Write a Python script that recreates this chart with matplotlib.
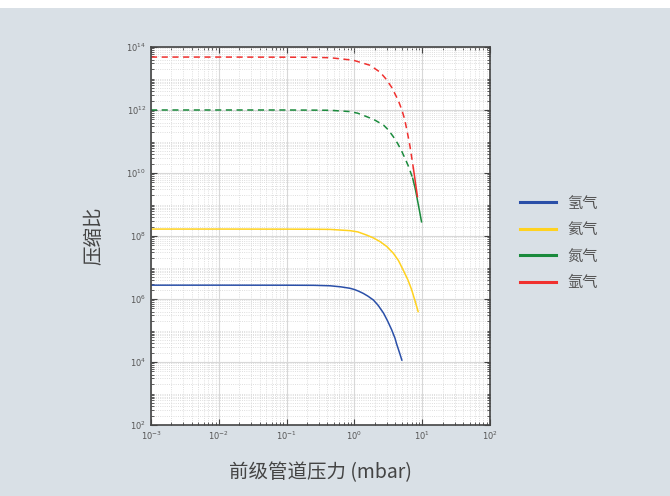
import matplotlib
matplotlib.use("Agg")
import matplotlib.pyplot as plt
from matplotlib.patches import Rectangle
from matplotlib.lines import Line2D
from matplotlib.ticker import LogLocator, FixedLocator, NullFormatter

plt.rcParams['font.family'] = ['Noto Sans CJK SC', 'DejaVu Sans']

# values (pressure in mbar, compression ratio)
h2_p = [0.001, 0.01, 0.1, 0.251, 0.437, 0.631, 0.861, 1.0, 1.148, 1.349, 1.585,
        1.905, 2.239, 2.692, 3.09, 3.548, 3.981, 4.169, 4.571, 5.01]
h2_k = [2.75e6, 2.75e6, 2.74e6, 2.72e6, 2.63e6, 2.43e6, 2.19e6, 2.0e6, 1.78e6, 1.51e6, 1.23e6,
        9.3e5, 6.3e5, 3.55e5, 2.0e5, 1.05e5, 5.6e4, 3.9e4, 2.14e4, 1.15e4]

he_p = [0.001, 0.01, 0.1, 0.251, 0.437, 0.861, 1.122, 1.514, 1.905, 2.399, 3.02,
        3.758, 4.467, 5.248, 6.166, 7.0, 7.943, 8.71]
he_k = [1.66e8, 1.66e8, 1.65e8, 1.64e8, 1.62e8, 1.48e8, 1.35e8, 1.07e8, 8.7e7, 6.6e7, 4.6e7,
        2.82e7, 1.66e7, 8.3e6, 4.0e6, 1.95e6, 7.9e5, 3.98e5]

n2_p_dash = [0.001, 0.01, 0.1, 0.251, 0.437, 0.861, 1.122, 1.514, 1.995, 2.692, 3.162,
             3.758, 4.365, 5.012, 5.623, 6.31, 7.244]
n2_k_dash = [1.0e12, 1.0e12, 1.0e12, 9.9e11, 9.8e11, 8.9e11, 7.9e11, 6.17e11, 4.8e11, 3.31e11, 2.34e11,
             1.41e11, 8.5e10, 4.79e10, 2.8e10, 1.58e10, 6.76e9]
n2_p = [7.244, 7.943, 8.511, 9.12, 9.772]
n2_k = [6.76e9, 3.0e9, 1.38e9, 6.3e8, 2.82e8]

ar_p_dash = [0.001, 0.01, 0.1, 0.251, 0.437, 0.966, 1.698, 2.399, 2.884, 3.548, 4.169,
             4.571, 5.012, 5.495, 6.026, 6.607, 7.413]
ar_k_dash = [4.79e13, 4.79e13, 4.75e13, 4.7e13, 4.57e13, 3.8e13, 2.63e13, 1.58e13, 1.0e13, 5.25e12, 2.63e12,
             1.7e12, 1.0e12, 5.2e11, 2.0e11, 7.0e10, 1.41e10]
ar_p = [7.413, 7.943, 8.511]
ar_k = [1.41e10, 5.0e9, 1.78e9]

names = ['氢气', '氦气', '氮气', '氩气']
colors = ['#2a4fa8', '#ffd21f', '#1a8a3c', '#f0302e']

fig = plt.figure(figsize=(6.7, 4.96), dpi=100)
fig.patch.set_facecolor('white')
fig.patches.append(Rectangle((0, 0), 1, 1 - 8 / 496, transform=fig.transFigure,
                             facecolor='#d9e0e6', edgecolor='none', zorder=-10))

ax = fig.add_axes([151 / 670, 1 - 425 / 496, 339 / 670, 378 / 496])
ax.set_facecolor('white')

ax.plot(h2_p, h2_k, color=colors[0], lw=1.1)
ax.plot(he_p, he_k, color=colors[1], lw=1.1)
ax.plot(n2_p_dash, n2_k_dash, color=colors[2], lw=1.1, ls=(0, (4, 3)))
ax.plot(ar_p_dash, ar_k_dash, color=colors[3], lw=1.1, ls=(0, (4, 3)))
ax.plot(n2_p, n2_k, color=colors[2], lw=1.1)
ax.plot(ar_p, ar_k, color=colors[3], lw=1.1)

ax.set_xscale('log')
ax.set_yscale('log')
ax.set_xlim(1e-3, 1e2)
ax.set_ylim(1e2, 1e14)

ax.xaxis.set_major_locator(FixedLocator([10.0 ** e for e in range(-3, 3)]))
ax.yaxis.set_major_locator(FixedLocator([10.0 ** e for e in range(2, 15, 2)]))
ax.xaxis.set_minor_locator(LogLocator(base=10, subs=range(2, 10), numticks=20))
ax.yaxis.set_minor_locator(LogLocator(base=10, subs=range(1, 10), numticks=30))
ax.xaxis.set_minor_formatter(NullFormatter())
ax.yaxis.set_minor_formatter(NullFormatter())
ax.set_xticklabels([r'$10^{%d}$' % e for e in range(-3, 3)])
ax.set_yticklabels([r'$10^{%d}$' % e for e in range(2, 15, 2)])

ax.grid(True, which='major', color='#d8d8d8', lw=0.8, ls='-')
ax.grid(True, which='minor', color='#d4d4d4', lw=0.6, ls=':')
ax.set_axisbelow(True)

ax.tick_params(which='both', direction='in', top=True, right=True, colors='#444444',
               labelcolor='#555555', labelsize=6)
ax.tick_params(which='major', length=4, width=0.8)
ax.tick_params(which='minor', length=2, width=0.6)
for s in ax.spines.values():
    s.set_color('#444444')
    s.set_linewidth(1.2)

ax.set_xlabel('前级管道压力 (mbar)', fontsize=14, color='#444444', labelpad=14)
ax.set_ylabel('压缩比', fontsize=14, color='#444444', labelpad=16)

handles = [Line2D([], [], color=c, lw=2.2) for c in colors]
fig.legend(handles, names, loc='center left', bbox_to_anchor=(506 / 670, 1 - 243 / 496),
           frameon=False, fontsize=11, labelcolor='#555555', handlelength=2.4,
           handletextpad=0.7, labelspacing=0.63)

fig.savefig('out.png', dpi=100)
